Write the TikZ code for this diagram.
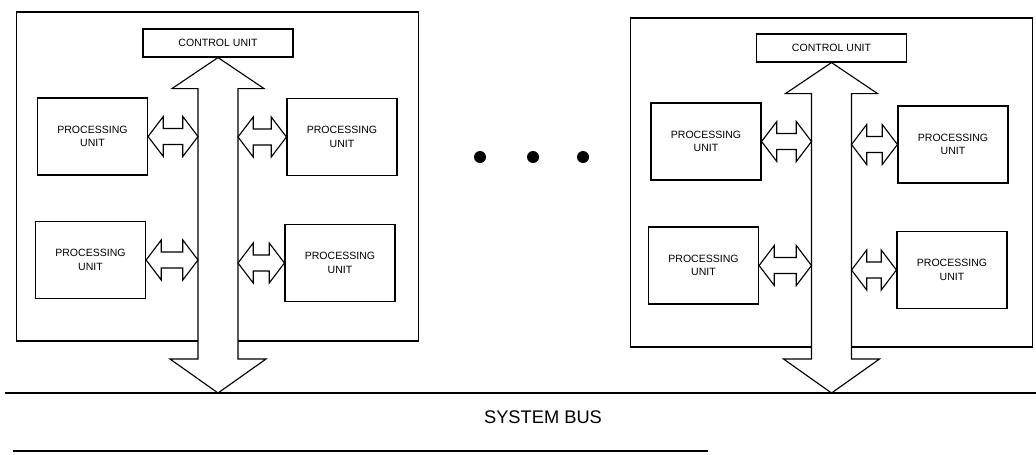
\documentclass[tikz,border=0pt]{standalone}
\usepackage{fontspec}
\setmainfont{Liberation Sans}
\usetikzlibrary{calc}

% fat horizontal double arrow, #1 left tip, #2 right tip
\newcommand{\fatlink}[2]{%
  \draw[fatline] let \p1=(#1), \p2=(#2) in
    (\p1) -- (\x1+3.8mm,\y1+5mm) -- (\x1+3.8mm,\y1+2mm) -- (\x2-3.8mm,\y1+2mm)
    -- (\x2-3.8mm,\y1+5mm) -- (\x2,\y1) -- (\x2-3.8mm,\y1-5mm) -- (\x2-3.8mm,\y1-2mm)
    -- (\x1+3.8mm,\y1-2mm) -- (\x1+3.8mm,\y1-5mm) -- cycle;}

% fat vertical arrow from the control unit #1 down to the bus point #2
\newcommand{\busarrow}[2]{%
  \draw[fatline] let \p1=(#1.south), \p2=(#2) in
    (\p1) -- (\x1-11.5mm,\y1-7.75mm) -- (\x1-5mm,\y1-7.75mm) -- (\x1-5mm,\y2+8.5mm)
    -- (\x1-12mm,\y2+8.5mm) -- (\x1,\y2) -- (\x1+12mm,\y2+8.5mm) -- (\x1+5mm,\y2+8.5mm)
    -- (\x1+5mm,\y1-7.75mm) -- (\x1+11.5mm,\y1-7.75mm) -- cycle;}

\begin{document}
\begin{tikzpicture}[
    x=0.025cm, y=-0.025cm,
    module/.style={draw, line width=1.3pt, minimum width=10.05cm, minimum height=8.225cm},
    punit/.style={draw, line width=0.8pt, fill=white, minimum width=2.75cm, minimum height=1.925cm,
      align=center, font=\fontsize{7.5}{9.5}\selectfont},
    cunit/.style={draw, line width=0.8pt, fill=white, minimum width=3.75cm, minimum height=0.7cm,
      font=\fontsize{7.5}{9}\selectfont},
    fatline/.style={draw, line width=0.8pt, fill=white, line join=miter},
    dot/.style={circle, fill=black, inner sep=0pt, minimum size=0.3cm},
    busline/.style={line width=0.9pt}
  ]
    \useasboundingbox (0,0) rectangle (1036,454);

    \node[module] (mod1) at (217.5,176.5) {};
    \node[module] (mod2) at (831.5,182.5) {};

    % system bus
    \coordinate (busA) at (5,393);
    \coordinate (busB) at (1036,393);
    \coordinate (busC) at (13,451);
    \coordinate (busD) at (708,451);
    \draw[busline] (busA) -- (busB);
    \draw[busline] (busC) -- (busD);
    \node[font=\fontsize{13}{15}\selectfont] (sysbus) at (543,417) {SYSTEM BUS};

    % left module
    \node[cunit] (cu1) at (218,43) {CONTROL UNIT};
    \coordinate (tip1) at (cu1.south |- busA);
    \busarrow{cu1}{tip1}
    \coordinate (s1w) at ($(cu1.south)+(-20,0)$);
    \coordinate (s1e) at ($(cu1.south)+(20,0)$);

    \node[punit] (pu11) at (92.5,136.5) {PROCESSING\\UNIT};
    \node[punit] (pu12) at (342,137) {PROCESSING\\UNIT};
    \node[punit] (pu13) at (90.5,260) {PROCESSING\\UNIT};
    \node[punit] (pu14) at (340,263) {PROCESSING\\UNIT};

    \fatlink{pu11.east}{pu11.east -| s1w}
    \fatlink{pu12.west -| s1e}{pu12.west}
    \fatlink{pu13.east}{pu13.east -| s1w}
    \fatlink{pu14.west -| s1e}{pu14.west}

    % dots
    \node[dot] (d1) at (480,157) {};
    \node[dot] (d2) at (533,157) {};
    \node[dot] (d3) at (583,157) {};

    % right module
    \node[cunit] (cu2) at (831.5,48) {CONTROL UNIT};
    \coordinate (tip2) at (cu2.south |- busA);
    \busarrow{cu2}{tip2}
    \coordinate (s2w) at ($(cu2.south)+(-20,0)$);
    \coordinate (s2e) at ($(cu2.south)+(20,0)$);

    \node[punit] (pu21) at (706,141.5) {PROCESSING\\UNIT};
    \node[punit] (pu22) at (953,144.5) {PROCESSING\\UNIT};
    \node[punit] (pu23) at (703.5,265.5) {PROCESSING\\UNIT};
    \node[punit] (pu24) at (952,270) {PROCESSING\\UNIT};

    \fatlink{pu21.east}{pu21.east -| s2w}
    \fatlink{pu22.west -| s2e}{pu22.west}
    \fatlink{pu23.east}{pu23.east -| s2w}
    \fatlink{pu24.west -| s2e}{pu24.west}
  \end{tikzpicture}
\end{document}
